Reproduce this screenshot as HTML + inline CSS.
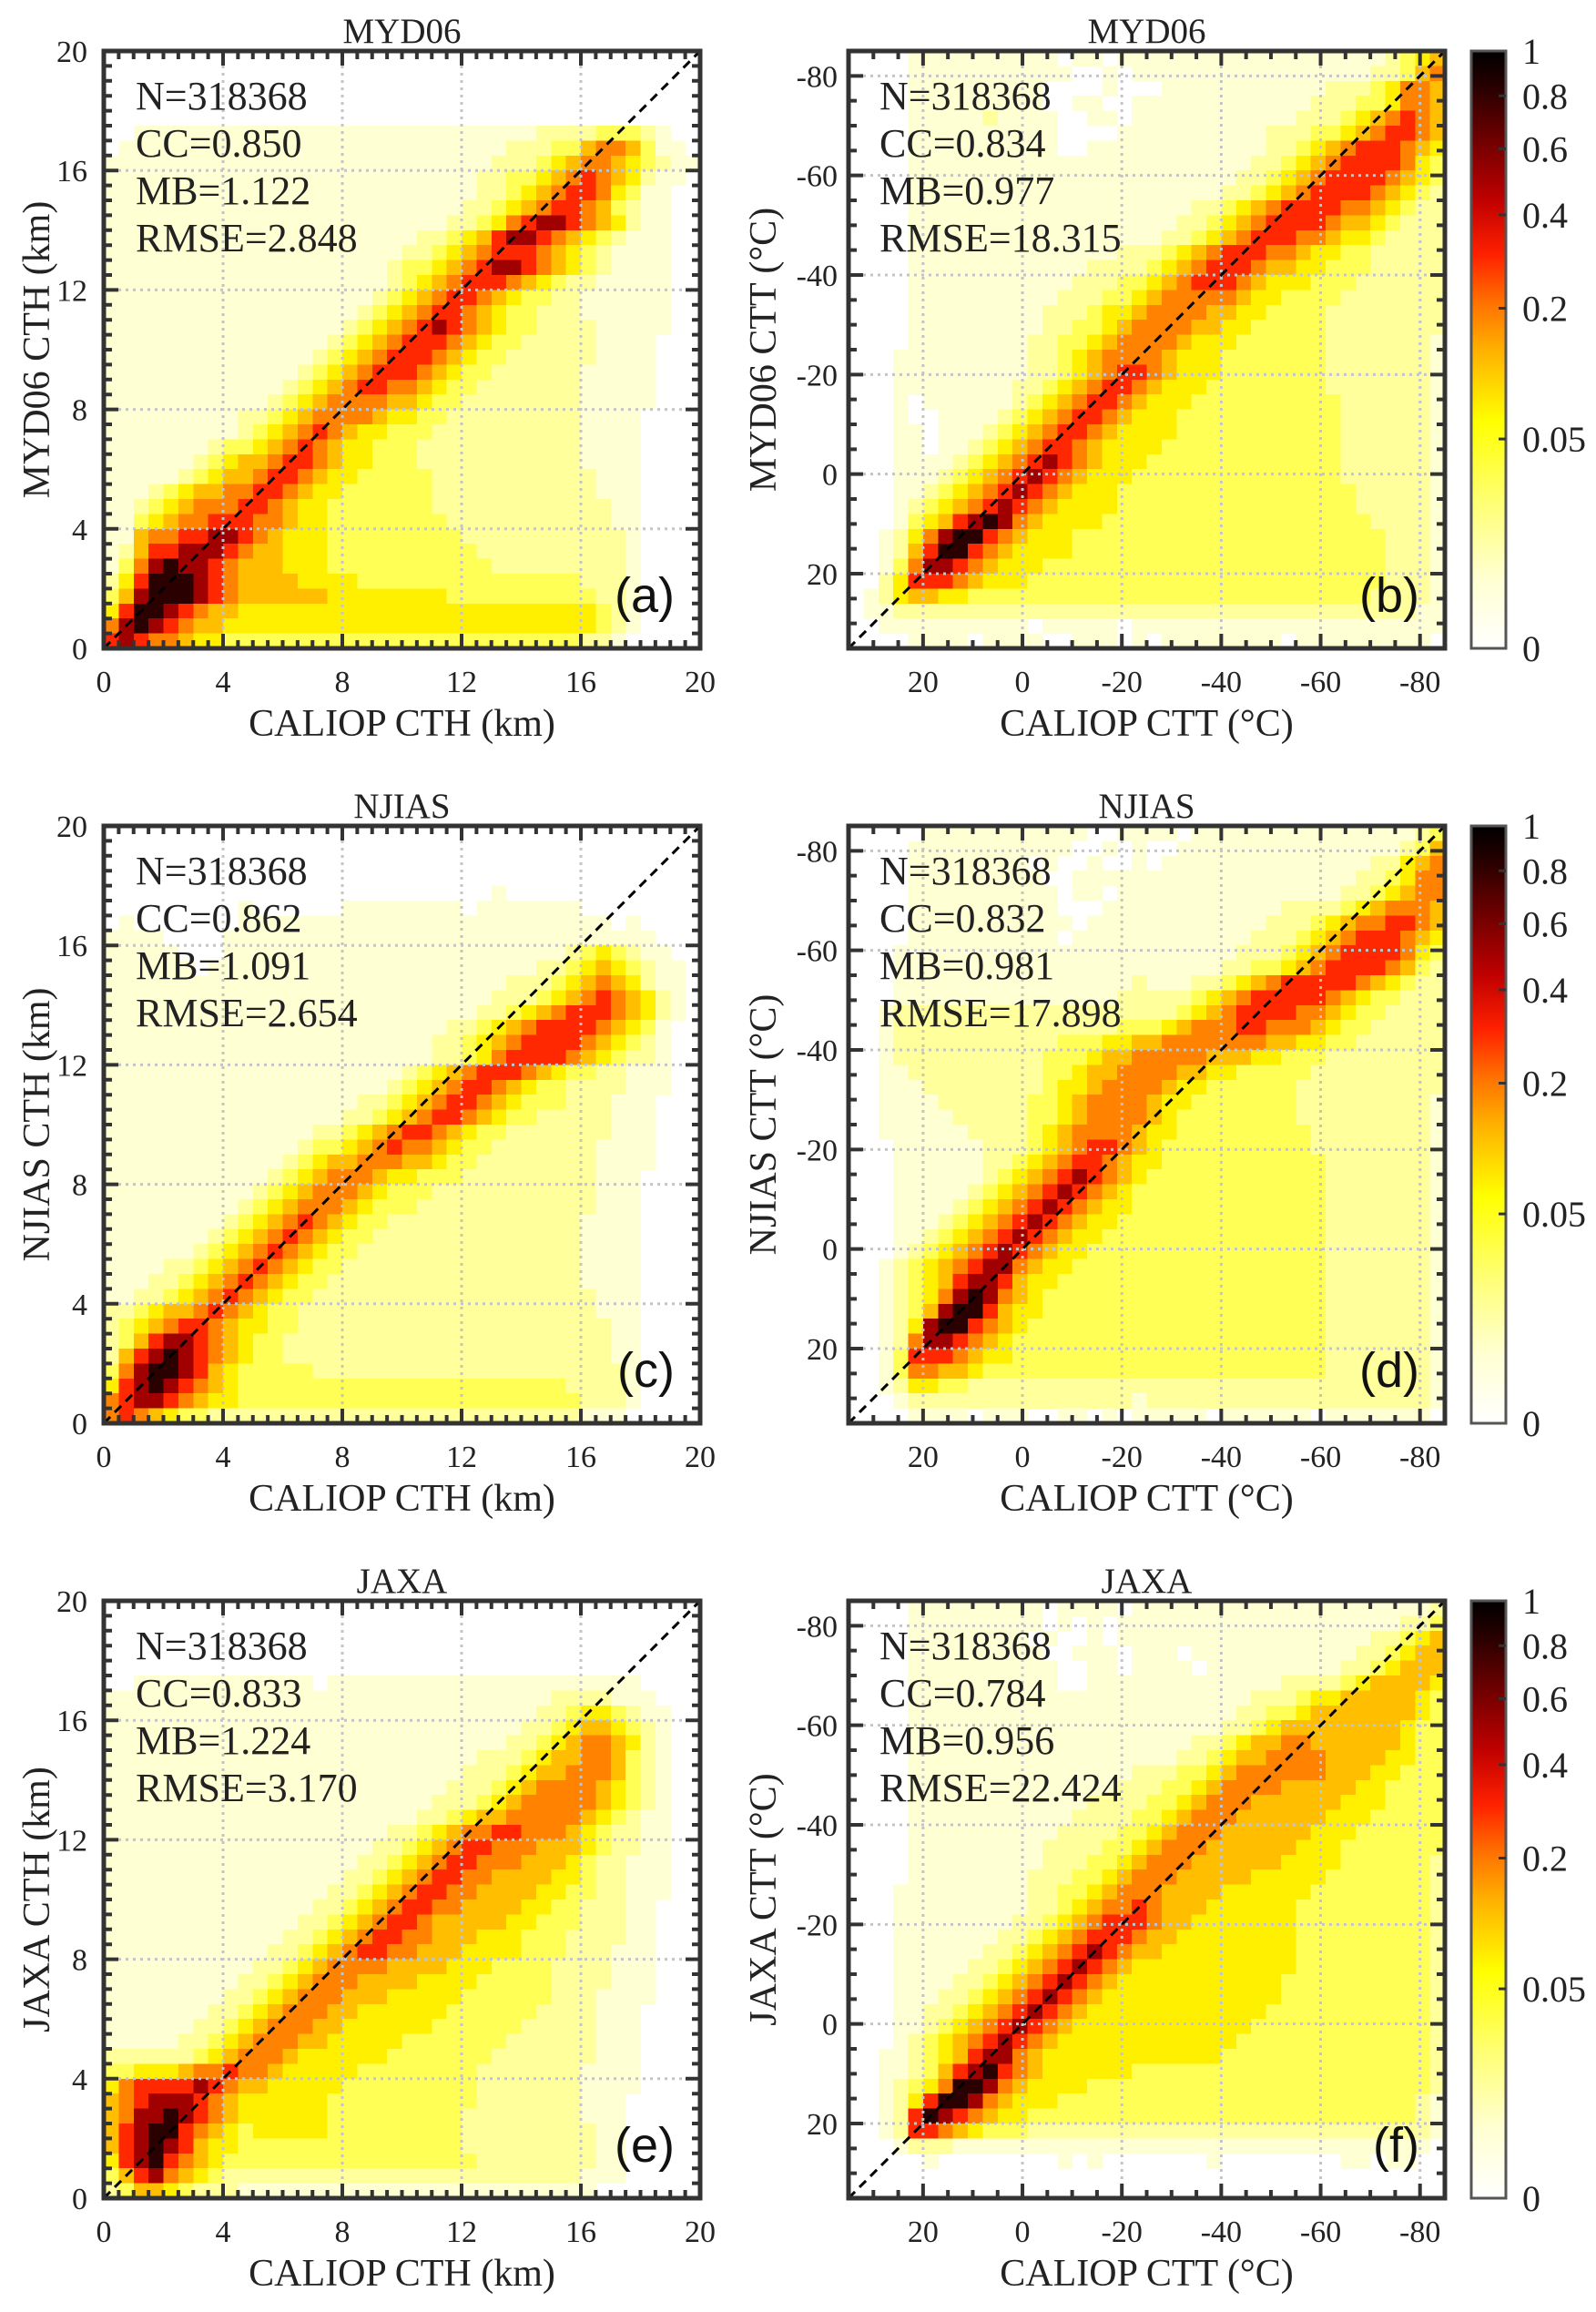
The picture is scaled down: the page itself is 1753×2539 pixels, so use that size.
<!DOCTYPE html>
<html><head><meta charset="utf-8"><title>CTH / CTT density scatter comparison</title>
<style>
html,body{margin:0;padding:0;background:#fff;}
svg{display:block;}
text{font-family:"Liberation Serif","Times New Roman",serif;fill:#222;}
.lbl{font-family:"Liberation Sans",Arial,sans-serif;fill:#111;}
</style></head>
<body>
<svg id="fig" xmlns="http://www.w3.org/2000/svg" width="1753" height="2539" viewBox="0 0 1753 2539">
<defs>
<linearGradient id="cbgrad" x1="0" y1="1" x2="0" y2="0">
<stop offset="0" stop-color="#ffffff"/><stop offset="0.12" stop-color="#ffffd0"/><stop offset="0.25" stop-color="#ffff70"/>
<stop offset="0.38" stop-color="#ffff00"/><stop offset="0.5" stop-color="#ffb000"/><stop offset="0.58" stop-color="#ff7000"/>
<stop offset="0.66" stop-color="#ff2000"/><stop offset="0.75" stop-color="#c00000"/><stop offset="0.85" stop-color="#700000"/>
<stop offset="0.95" stop-color="#200000"/><stop offset="1" stop-color="#000000"/>
</linearGradient>
</defs>
</svg>
<script>
// ---------- data: density level per cell (rows top -> bottom, 40 columns) ----------
const panelA = [
"0000000000 0000000000 0000000000 0000000000","0000000000 0000000000 0000000000 0000000000","0000000000 0000000000 0000000000 0000000000","0000000000 0000000000 0000000000 0000000000","0000000000 0000000000 0000000000 0000000000",
"0011111111 1111111111 1111111112 2223332100",
"0111111111 1111111111 1111111222 3356653110",
"1111111111 1111111111 1111112223 4566543211",
"1111111111 1111111111 1111122334 5676542110",
"1111111111 1111111111 1111122345 6776431100",
"1111111111 1111111111 1111223456 7765321100",
"1111111111 1111111111 1112234678 8765421100",
"1111111111 1111111111 1223457887 6543211100",
"1111111111 1111111111 2234567776 5432111100",
"1111111111 1111111112 3345678876 5432111100",
"1111111111 1111111112 3456777654 3221111100",
"1111111111 1111111123 4567765433 2211111100",
"1111111111 1111111234 5677654332 2211111100",
"1111111111 1111112345 6787654332 2221111100",
"1111111111 1111123456 7776543322 2221111000",
"1111111111 1111234567 7765433222 2221111000",
"1111111111 1112345677 7654332222 2211111000",
"1111111111 1123456776 6543322222 2211111000",
"1111111111 1234566665 5433222222 2211111000",
"1111111112 2345666654 4332222222 2211110000",
"1111111112 3456765443 3322222222 2211110000",
"1111111233 4567654433 3222222222 2211110000",
"1111112345 5677654433 3222222222 2211110000",
"1111123455 6776544333 3322222222 2221110000",
"1112345566 7765443333 3322222222 2221110000",
"1123456667 7654433333 3322222222 2222110000",
"1134566777 6654433333 3332222222 2222110000",
"1156677887 6544433333 3333222222 2222210000",
"1257788876 5544433333 3333322222 2222210000",
"1368988765 5544433333 3333332222 2222210000",
"2479998765 5554444333 3333333333 3322210000",
"3589998765 5555544444 4443333333 3332210000",
"4799876554 4444444444 4444444444 4443210000",
"6898765544 4444444444 4444444444 4443210000",
"7876654433 3333333333 3333333333 3322100000"];

const panelC = [
"0000000000 0000000000 0000000000 0000000000","0000000000 0000000000 0000000000 0000000000","0000000000 0000000000 0000000000 0000000000","0000000000 0000000000 0000000000 0000000000",
"0000000000 0000000000 0000001000 0000000000",
"0000000001 0000001111 1111011111 1100000000",
"0100000001 1111111111 1111111111 1111010000",
"1111000011 1111111111 1111111111 1111111000",
"1111100011 1111111111 1111111111 1234321100",
"1111110111 1111111111 1111111112 2345432110",
"1111111111 1111111111 1111111222 3456542110",
"1111111111 1111111111 1111112223 4567654210",
"1111111111 1111111111 1111122345 6777654210",
"1111111111 1111111111 1112234567 7776543100",
"1111111111 1111111111 1122345677 7765432100",
"1111111111 1111111111 1122346777 7654322100",
"1111111111 1111111111 2345677765 4332211100",
"1111111111 1111111112 3456776543 3222211100",
"1111111111 1111111223 4567765433 3222111000",
"1111111111 1111112234 5677654332 2222111000",
"1111111111 1111223456 7765433222 2222111000",
"1111111111 1112334567 6654332222 2221111000",
"1111111111 1123455666 5543322222 2221111000",
"1111111111 1234566654 4333222222 2221110000",
"1111111111 2345666543 3322222222 2221110000",
"1111111112 3456665433 3222222222 2221110000",
"1111111123 4567654332 2222222222 2211110000",
"1111111234 5676543322 2222222222 2211110000",
"1111112345 6765433222 2222222222 2211110000",
"1111223456 7654332222 2222222222 2211110000",
"1112234567 6543322222 2222222222 2211110000",
"1122345676 5433222222 2222222222 2221110000",
"2234556765 4332222222 2222222222 2221110000",
"2345677654 4332222222 2222222222 2222110000",
"2357887654 3322222222 2222222222 2222110000",
"2578987654 3322222222 2222222222 2222110000",
"3689987543 3333222222 2222222222 2222210000",
"4789876543 3333333333 3333333333 3222210000",
"6788765443 3333333333 3333333333 3322210000",
"6765433222 2222222222 2222222222 2211100000"];

const panelE = [
"0000000000 0000000000 0000000000 0000000000","0000000000 0000000000 0000000000 0000000000","0000000000 0000000000 0000000000 0000000000","0000000000 0000000000 0000000000 0000000000","0000000000 0000000000 0000000000 0000000000",
"0011111111 1111011111 1111111111 1111110000",
"1111111111 1111111111 1111111111 2222111000",
"1111111111 1111111111 1111111112 2344321100",
"1111111111 1111111111 1111111122 3455432100",
"1111111111 1111111111 1111111223 4566542100",
"1111111111 1111111111 1111122234 5566532100",
"1111111111 1111111111 1111222345 5666532100",
"1111111111 1111111111 1112223456 6665432100",
"1111111111 1111111111 1122234566 6665432100",
"1111111111 1111111111 1223455666 6654321100",
"1111111111 1111111112 2345667766 6543221100",
"1111111111 1111111122 3456776665 5543221100",
"1111111111 1111111223 4567766655 5432211100",
"1111111111 1111112234 5677665555 4432211100",
"1111111111 1111122345 6776655554 4332211100",
"1111111111 1111223456 7766555544 3322211000",
"1111111111 1112234567 7655555443 3322211000",
"1111111111 1122345677 6655544433 3222211000",
"1111111111 1223456776 6555444433 3222111000",
"1111111111 2234566665 5554443333 2222111000",
"1111111112 2345666555 5444433333 2222111000",
"1111111122 3456665554 4444333333 2221111000",
"1111111223 4566655444 4443333332 2221110000",
"1111112234 5666554444 4433333322 2221110000",
"1111122345 6665544444 3333333222 2221110000",
"2222223456 6654444443 3333332222 2221110000",
"3344456676 6544444333 3333322222 2211110000",
"4677778765 5444443333 3333322222 2211110000",
"5678887654 4444433333 3333322222 2211100000",
"5688987654 4444433333 3333222222 2211100000",
"5789976543 4444433333 3333222222 2221100000",
"5789875443 3333333333 3333222222 2221100000",
"4789765433 3333333333 3333322222 2221100000",
"3578654322 2222222222 2222222222 2211100000",
"2355432221 1111111111 1111111111 1110000000"];

const panelB = [
"0000111111 1111011011 1111111111 1111112345",
"0000111111 1111100101 1111111111 1111122356",
"0000111111 1110000100 0111111111 1122234665",
"0000111111 1110011001 1111111111 1222334665",
"0000111112 1111001101 1111111111 2223456765",
"0000111111 1111000011 1111111122 2334567765",
"0000111111 1111001111 1111111122 3456777654",
"0000111111 1111111111 1111111223 4567777643",
"0000111111 1111111111 1111112234 5677776543",
"0000111111 1111111111 1111122345 6777765432",
"0000111111 1111111111 1112234567 7776654322",
"0000111111 1111111111 1122345677 7765543222",
"0000111111 1111111111 1223456777 6654432222",
"0000111111 1111111122 2345677766 5443322222",
"0000111111 1111112222 3456777655 4433322222",
"0000111111 1111122233 4567776544 4333222222",
"0000111111 1111222334 5666665443 3332222222",
"0000111111 1112223445 6666554433 3322222222",
"0000111111 1112233456 6665544333 3322222222",
"0000111111 1122334566 6654443333 3322222221",
"0001111111 1122345666 6544433333 3322222221",
"0001111111 1122345677 6544433333 3322222221",
"0001111111 1223456776 5444333333 3322222221",
"0001011111 1234567765 4443333333 3332222221",
"0001001111 2345677654 4433333333 3332222221",
"0001101112 3456776544 4433333333 3332222221",
"0001101123 4567765444 4333333333 3332222221",
"0001111234 5678765444 3333333333 3332222221",
"0001112345 6787654443 3333333333 3332222221",
"0001123456 7876544433 3333333333 3333222221",
"0001234567 8765444433 3333333333 3333222221",
"0001345789 8654444333 3333333333 3333322221",
"0012468997 6544433333 3333333333 3333332221",
"0012579976 5444433333 3333333333 3333332221",
"0013688765 4443333333 3333333333 3333332221",
"0024777654 4433333333 3333333333 3333332221",
"0124554433 3333333333 3333333333 3333322221",
"0112222222 2222222222 2222222222 2222222211",
"0011111111 1101111101 1111111111 1111111111",
"0000111101 1110011101 0111111110 1111111110"];

const panelD = [
"0000011111 1111110011 1101111111 1111111123",
"0000111111 1111100101 0011111111 1111111235",
"0000111111 1101001001 0111111111 1111122456",
"0000111111 1110011111 1111111111 1111223466",
"0000111111 1111011011 1111111111 1112234566",
"0000111111 1111000111 1111111112 2223456665",
"0000111111 1111101111 1111111122 2345667765",
"0000111111 1111011111 1111111222 3456777654",
"0001111111 1111111111 1111112223 4567777643",
"0001111111 1111111111 1111122334 5677776532",
"0001111111 1111111112 1112234567 7777654322",
"0001111111 1111111122 2223456777 7765433222",
"0012222222 2222222222 2234567777 6654332222",
"0012222222 2222222233 3456667766 6543322222",
"0012222222 2222333445 5666666655 4433222222",
"0012222222 2223334556 6666555443 3322222222",
"0011222222 2223345566 6655443333 3222222222",
"0011122222 2223445666 6544333333 2222222222",
"0011112222 2233456666 5443333333 2222222221",
"0011111222 2233456666 5433333333 2222222221",
"0011111122 2234566665 4433333333 3222222221",
"0001111112 2234567765 4333333333 3222222221",
"0001111112 2345677654 4333333333 3322222221",
"0001111112 3456787654 3333333333 3322222221",
"0001111123 4567876543 3333333333 3322222221",
"0001111234 5678765443 3333333333 3322222221",
"0001112345 6787654433 3333333333 3322222221",
"0001123456 7876544333 3333333333 3322222221",
"0001234567 8765443333 3333333333 3322222221",
"0012345678 8654433333 3333333333 3322222221",
"0012345788 7544333333 3333333333 3322222221",
"0012346898 6543333333 3333333333 3322222221",
"0012358997 5443333333 3333333333 3322222221",
"0012489976 5433333333 3333333333 3322222221",
"0012688765 4333333333 3333333333 3322222221",
"0013777654 4333333333 3333333333 3322222221",
"0013665543 3333333333 3333333333 3322222221",
"0012443322 2222222222 2222222222 2222222221",
"0001222222 2222222221 2222222222 2222222221",
"0000111101 1100110101 1111011111 1011111110"];

const panelF = [
"0000111111 1110111101 1111111111 1111111112",
"0000111111 1110101011 1111111111 1111111223",
"0000111111 1101001011 1111111111 1111122345",
"0000111111 1110011101 1101111111 1111223455",
"0000111111 1111001101 1110111111 1112234555",
"0000111111 1111001111 1111111112 2223455554",
"0000111111 1111111111 1111111222 3445555543",
"0000111111 1111111111 1111112233 4555555543",
"0000111111 1111111111 1111122345 5555555433",
"0000111111 1111111111 1112234556 6555555433",
"0000111111 1111111111 1122345566 6655554433",
"0000111111 1111111112 2233456666 6655544333",
"0000111111 1111111122 2334566665 5555443333",
"0000111111 1111112222 3345666555 5554443333",
"0000111111 1111122223 3456665555 5544433333",
"0000111111 1111222233 4566655555 5444333333",
"0000111111 1112222334 5666555555 4443333333",
"0000111111 1112223345 6665555554 4443333332",
"0000111111 1122233456 6655555444 4433333332",
"0001111111 1122334566 6555544444 4333333332",
"0001111111 1122345667 6555444444 3333333332",
"0001111111 1223456777 6554444444 3333333332",
"0001111111 2234567776 5544444444 3333333332",
"0001111112 2345678765 5444444444 3333333332",
"0001111122 3456787654 4444444444 3333333332",
"0001111223 4567876544 4444444443 3333333332",
"0001112234 5678765444 4444444443 3333333332",
"0001122345 6787654444 4444444433 3333333332",
"0001123456 7876544444 4444444333 3333333332",
"0001234567 8765444444 4444443333 3333333332",
"0011234578 8654444444 4444433333 3333333332",
"0011235789 7654444443 3333333333 3333333332",
"0012346998 6544443333 3333333333 3333333332",
"0012479986 5444333333 3333333333 3333333321",
"0012798765 4433333333 3333333333 3333333321",
"0012776543 3322222222 2222222222 2222222221",
"0001222111 1111111111 1111111111 1111111110",
"0000010000 0000101000 0000100000 0001101100",
"0000000000 0000000000 0000000000 0000000000",
"0000000000 0000000000 0000000000 0000000000"];

const levelColors = ['#ffffff','#ffffd4','#ffff9c','#ffff55','#fff000','#ffbe00','#ff8200','#ff2800','#a00000','#2a0000'];
const cthTicks = [0,4,8,12,16,20];
const cttTicks = [20,0,-20,-40,-60,-80];
const cbTicks = [0,0.05,0.2,0.4,0.6,0.8,1];
const cbTickLabels = ['0','0.05','0.2','0.4','0.6','0.8','1'];
const statsA = ['N=318368','CC=0.850','MB=1.122','RMSE=2.848'];
const statsB = ['N=318368','CC=0.834','MB=0.977','RMSE=18.315'];
const statsC = ['N=318368','CC=0.862','MB=1.091','RMSE=2.654'];
const statsD = ['N=318368','CC=0.832','MB=0.981','RMSE=17.898'];
const statsE = ['N=318368','CC=0.833','MB=1.224','RMSE=3.170'];
const statsF = ['N=318368','CC=0.784','MB=0.956','RMSE=22.424'];
const cbGamma = 0.35;

// ---------- layout ----------
const NS = 'http://www.w3.org/2000/svg';
const svg = document.getElementById('fig');
const W = 655, H = 656;
const LX = 114, RX = 932, TOPS = [56, 907, 1758];
function mk(tag, attrs, parent) {
  const e = document.createElementNS(NS, tag);
  for (const k in attrs) e.setAttribute(k, attrs[k]);
  (parent || svg).appendChild(e);
  return e;
}
function parseRows(rows) { return rows.map(r => r.replace(/ /g, '').split('').map(Number)); }

const panels = [
  {key:'a', kind:'cth', x0:LX, y0:TOPS[0], rows:panelA, stats:statsA, title:'MYD06', ylab:'MYD06 CTH (km)'},
  {key:'b', kind:'ctt', x0:RX, y0:TOPS[0], rows:panelB, stats:statsB, title:'MYD06', ylab:'MYD06 CTT (\u00b0C)'},
  {key:'c', kind:'cth', x0:LX, y0:TOPS[1], rows:panelC, stats:statsC, title:'NJIAS', ylab:'NJIAS CTH (km)'},
  {key:'d', kind:'ctt', x0:RX, y0:TOPS[1], rows:panelD, stats:statsD, title:'NJIAS', ylab:'NJIAS CTT (\u00b0C)'},
  {key:'e', kind:'cth', x0:LX, y0:TOPS[2], rows:panelE, stats:statsE, title:'JAXA', ylab:'JAXA CTH (km)'},
  {key:'f', kind:'ctt', x0:RX, y0:TOPS[2], rows:panelF, stats:statsF, title:'JAXA', ylab:'JAXA CTT (\u00b0C)'}
];

panels.forEach(p => {
  const cth = p.kind === 'cth';
  const lo = cth ? 0 : 35, hi = cth ? 20 : -85;
  const xs = v => p.x0 + (v - lo) / (hi - lo) * W;
  const ys = v => p.y0 + H - (v - lo) / (hi - lo) * H;
  const g = mk('g', {});
  
  

  // heatmap cells
  const grid = parseRows(p.rows);
  const nR = grid.length, nC = grid[0].length;
  const step = (hi - lo) / nC;
  const cells = mk('g', {'shape-rendering':'crispEdges'}, g);
  
  
  for (let r = 0; r < nR; r++) {
    const j = nR - 1 - r;
    for (let i = 0; i < nC; i++) {
      const lev = grid[r][i];
      if (!lev) continue;
      const xa = xs(lo + i * step), xb = xs(lo + (i + 1) * step);
      const ya = ys(lo + (j + 1) * step), yb = ys(lo + j * step);
      const c = mk('rect', {x:Math.min(xa,xb).toFixed(2), y:Math.min(ya,yb).toFixed(2), width:(Math.abs(xb-xa)+0.6).toFixed(2), height:(Math.abs(yb-ya)+0.6).toFixed(2), fill:levelColors[lev]}, cells);
      
      
    }
  }

  // gridlines
  const ticks = cth ? cthTicks : cttTicks;
  ticks.forEach(t => {
    if (t === lo || t === hi) return;
    const gx = mk('line', {x1:xs(t), x2:xs(t), y1:p.y0, y2:p.y0+H, stroke:'#c4c4c4', 'stroke-width':3, 'stroke-dasharray':'3 5'}, g);
    
    
    const gy = mk('line', {x1:p.x0, x2:p.x0+W, y1:ys(t), y2:ys(t), stroke:'#c4c4c4', 'stroke-width':3, 'stroke-dasharray':'3 5'}, g);
    
    
  });

  // 1:1 line
  const d = mk('line', {x1:xs(lo), y1:ys(lo), x2:xs(hi), y2:ys(hi), stroke:'#000', 'stroke-width':3, 'stroke-dasharray':'10 7'}, g);
  
  

  // minor + major ticks on all sides
  const minor = cth ? 0.5 : 5;
  const nMin = Math.round(Math.abs(hi - lo) / minor);
  for (let k = 1; k < nMin; k++) {
    const v = lo + Math.sign(hi - lo) * k * minor;
    const major = ticks.indexOf(Math.round(v * 100) / 100) >= 0;
    const L = major ? 16 : 9, sw = 4;
    const tk = mk('path', {d:`M${xs(v)},${p.y0+H}v${-L}M${xs(v)},${p.y0}v${L}M${p.x0},${ys(v)}h${L}M${p.x0+W},${ys(v)}h${-L}`, stroke:'#333', 'stroke-width':sw, fill:'none'}, g);
    
    
  }
  // frame
  const fr = mk('rect', {x:p.x0, y:p.y0, width:W, height:H, fill:'none', stroke:'#333', 'stroke-width':5}, g);
  
  

  // tick labels
  ticks.forEach(t => {
    const tx = mk('text', {x:xs(t), y:p.y0+H+48, 'font-size':34, 'text-anchor':'middle'}, g);
    tx.textContent = String(t);
    
    
    const ty = mk('text', {x:cth ? p.x0-18 : p.x0-12, y:ys(t)+12, 'font-size':34, 'text-anchor':'end'}, g);
    ty.textContent = String(t);
    
    
  });

  // titles and axis labels
  const ti = mk('text', {x:p.x0+W/2, y:p.y0-9, 'font-size':39, 'text-anchor':'middle'}, g);
  ti.textContent = p.title;
  
  
  const xl = mk('text', {x:p.x0+W/2, y:p.y0+H+96, 'font-size':42, 'text-anchor':'middle'}, g);
  xl.textContent = cth ? 'CALIOP CTH (km)' : 'CALIOP CTT (\u00b0C)';
  
  
  const ylx = cth ? 54 : 852;
  const yl = mk('text', {x:0, y:0, transform:`translate(${ylx},${p.y0+H/2}) rotate(-90)`, 'font-size':42, 'text-anchor':'middle'}, g);
  yl.textContent = p.ylab;
  
  

  // statistics
  p.stats.forEach((s, k) => {
    const st = mk('text', {x:cth ? 149 : 966, y:p.y0+64+k*52, 'font-size':44, fill:'#000'}, g);
    st.textContent = s;
    
    
  });
  const pl = mk('text', {x:p.x0+W-28, y:p.y0+H-40, 'font-size':54, 'text-anchor':'end', class:'lbl'}, g);
  pl.textContent = '(' + p.key + ')';
  
  
});

// colorbars
TOPS.forEach((top, n) => {
  const cx = 1616, cw = 38;
  const cg = mk('g', {});
  
  
  const bar = mk('rect', {x:cx, y:top, width:cw, height:H, fill:'url(#cbgrad)', stroke:'#555', 'stroke-width':3}, cg);
  
  
  cbTicks.forEach((v, k) => {
    const yy = top + H - Math.pow(v, cbGamma) * H;
    if (v > 0 && v < 1) {
      const tk = mk('line', {x1:cx+cw-8, x2:cx+cw, y1:yy, y2:yy, stroke:'#333', 'stroke-width':3}, cg);
      
      
    }
    const tl = mk('text', {x:1672, y:yy+14, 'font-size':40}, cg);
    tl.textContent = cbTickLabels[k];
    
    
  });
});
</script>
</body></html>
